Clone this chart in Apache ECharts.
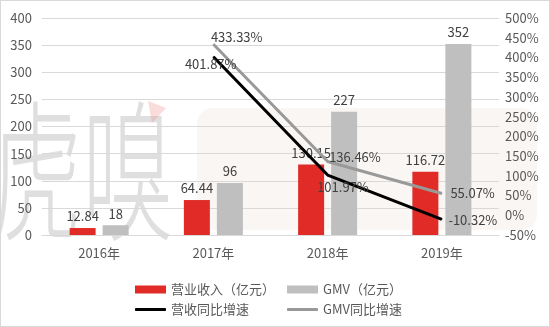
<!DOCTYPE html>
<html><head><meta charset="utf-8">
<script src="https://cdn.jsdelivr.net/npm/echarts@6/dist/echarts.min.js"></script>
<style>html,body{margin:0;padding:0;background:#fff}#c{width:548px;height:325px;border:1px solid #d9d9d9}</style>
</head><body><div id="c"></div>
<script>
const categories = ['2016年','2017年','2018年','2019年'];
const revenue = [12.84, 64.44, 130.15, 116.72];
const gmv = [18, 96, 227, 352];
const revenueGrowth = [null, 401.87, 101.97, -10.32];
const gmvGrowth = [null, 433.33, 136.46, 55.07];
const leftTicks = {min:0, max:400, interval:50};
const rightTicks = {min:-50, max:500, interval:50};

const FONT = '"Noto Sans CJK SC","Noto Sans",sans-serif';
const chart = echarts.init(document.getElementById('c'));
const lbl = {color:'#404040', fontSize:13, fontFamily:FONT};
function pct(v){ return Number(v).toFixed(2) + '%'; }
// label nudges [series][dataIndex] = [dx, dy]
const nudges = {
  2: {1:[-33,7], 2:[-15,12], 3:[2,1]},
  3: {1:[-7,-7], 2:[-3,-4], 3:[4,0]}
};
chart.setOption({
  animation:false,
  textStyle:{fontFamily:FONT},
  graphic:[
    {type:'rect', left:196, top:107, z:-10, silent:true,
     shape:{width:340, height:122, r:16}, style:{fill:'rgba(215,200,185,0.16)'}},
    {type:'text', x:-10, y:94, scaleX:0.6, z:-9, silent:true,
     style:{text:'虎嗅', x:0, y:0, verticalAlign:'top', font:'300 152px "Noto Sans CJK SC"', fill:'rgba(170,170,170,0.38)'}},
    {type:'polygon', z:-9, silent:true,
     shape:{points:[[147,100],[165,107],[151,122]]}, style:{fill:'rgba(240,140,140,0.3)'}}
  ],
  grid:{left:41, right:50, top:17, bottom:91, containLabel:false},
  legend:[
    {data:['营业收入（亿元）'], left:129, top:277, icon:'rect', itemWidth:31, itemHeight:8, textStyle:{color:'#595959',fontSize:13,fontFamily:FONT}},
    {data:['GMV（亿元）'], left:281, top:277, icon:'rect', itemWidth:31, itemHeight:8, textStyle:{color:'#595959',fontSize:13,fontFamily:FONT}},
    {data:['营收同比增速'], left:129, top:297, icon:'roundRect', itemWidth:31, itemHeight:3, textStyle:{color:'#595959',fontSize:13,fontFamily:FONT}},
    {data:['GMV同比增速'], left:281, top:297, icon:'roundRect', itemWidth:31, itemHeight:3, textStyle:{color:'#595959',fontSize:13,fontFamily:FONT}}
  ],
  xAxis:{type:'category', data:categories,
    axisLine:{lineStyle:{color:'#d9d9d9'}}, axisTick:{show:false},
    axisLabel:{color:'#595959', fontSize:13, margin:12}},
  yAxis:[
    {type:'value', min:leftTicks.min, max:leftTicks.max, interval:leftTicks.interval,
     axisLine:{show:false}, axisTick:{show:false},
     axisLabel:{color:'#595959', fontSize:13, margin:10},
     splitLine:{lineStyle:{color:'#d9d9d9'}}},
    {type:'value', min:rightTicks.min, max:rightTicks.max, interval:rightTicks.interval,
     axisLine:{show:false}, axisTick:{show:false},
     axisLabel:{color:'#595959', fontSize:13, margin:6, formatter:'{value}%'},
     splitLine:{show:false}}
  ],
  series:[
    {name:'营业收入（亿元）', type:'bar', data:revenue, barWidth:26, barGap:'27%',
     itemStyle:{color:'#e02b27'}, label:{show:true, position:'top', distance:5, ...lbl}},
    {name:'GMV（亿元）', type:'bar', data:gmv, barWidth:26,
     itemStyle:{color:'#bfbfbf'}, label:{show:true, position:'top', distance:5, ...lbl}},
    {name:'营收同比增速', type:'line', yAxisIndex:1, symbol:'circle', symbolSize:1, showSymbol:true,
     data:revenueGrowth,
     lineStyle:{color:'#000', width:3}, itemStyle:{color:'#000'},
     label:{show:true, ...lbl, formatter:p=>pct(p.value), position:'right', distance:4},
     labelLayout:p=>{const n=(nudges[2]||{})[p.dataIndex]||[0,0]; return {dx:n[0], dy:n[1], hideOverlap:false};},
     emphasis:{disabled:true}},
    {name:'GMV同比增速', type:'line', yAxisIndex:1, symbol:'circle', symbolSize:1, showSymbol:true,
     data:gmvGrowth,
     lineStyle:{color:'#999', width:3}, itemStyle:{color:'#999'},
     label:{show:true, ...lbl, formatter:p=>pct(p.value), position:'right', distance:4},
     labelLayout:p=>{const n=(nudges[3]||{})[p.dataIndex]||[0,0]; return {dx:n[0], dy:n[1], hideOverlap:false};},
     emphasis:{disabled:true}}
  ]
});
</script></body></html>
